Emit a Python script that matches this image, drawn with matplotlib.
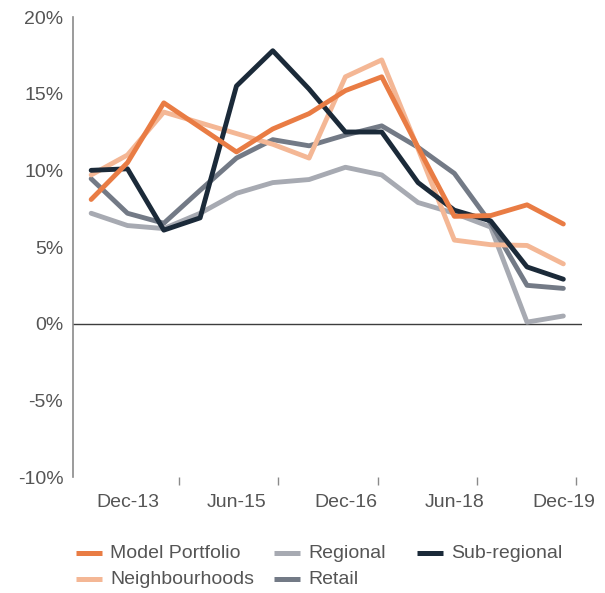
import matplotlib
matplotlib.use("Agg")
import matplotlib.pyplot as plt
from matplotlib.lines import Line2D
from matplotlib.ticker import FixedLocator, FuncFormatter

plt.rcParams['font.family'] = ['Liberation Sans', 'DejaVu Sans']

# ---- data ----
periods = ['Jun-13', 'Dec-13', 'Jun-14', 'Dec-14', 'Jun-15', 'Dec-15', 'Jun-16',
           'Dec-16', 'Jun-17', 'Dec-17', 'Jun-18', 'Dec-18', 'Jun-19', 'Dec-19']
model_portfolio = [8.1, 10.5, 14.4, 12.8, 11.2, 12.7, 13.7, 15.2, 16.1, 11.5, 7.0, 7.05, 7.75, 6.5]
neighbourhoods = [9.7, 11.0, 13.8, 13.1, 12.4, 11.7, 10.8, 16.1, 17.2, 11.4, 5.45, 5.15, 5.1, 3.9]
regional = [7.2, 6.4, 6.2, 7.2, 8.5, 9.2, 9.4, 10.2, 9.7, 7.9, 7.2, 6.3, 0.1, 0.5]
sub_regional = [10.0, 10.1, 6.1, 6.9, 15.5, 17.8, 15.3, 12.5, 12.5, 9.2, 7.4, 6.7, 3.7, 2.9]
retail = [9.45, 7.2, 6.55, 8.7, 10.8, 12.0, 11.6, 12.3, 12.9, 11.5, 9.8, 6.55, 2.5, 2.3]
labelled_periods = ['Dec-13', 'Jun-15', 'Dec-16', 'Jun-18', 'Dec-19']
y_ticks = [-10, -5, 0, 5, 10, 15, 20]

series = [
    ('Model Portfolio', model_portfolio, '#E97C44', 6),
    ('Regional', regional, '#A7AAB2', 2),
    ('Sub-regional', sub_regional, '#1B2A39', 5),
    ('Neighbourhoods', neighbourhoods, '#F4B795', 4),
    ('Retail', retail, '#737A86', 3),
]

W, H = 605, 593
fig = plt.figure(figsize=(W / 100, H / 100), dpi=100)
ax = fig.add_axes([73 / W, (H - 477) / H, (581.5 - 73) / W, (477 - 17) / H])

x = list(range(len(periods)))
for name, vals, color, z in series:
    ax.plot(x, vals, color=color, lw=3.5, zorder=z,
            solid_capstyle='round', solid_joinstyle='round')

ax.set_xlim(-0.5, len(periods) - 0.5)
ax.set_ylim(-10, 20)

ax.axhline(0, color='#3d3d3d', lw=1.0, zorder=1)

for s in ['top', 'right', 'bottom']:
    ax.spines[s].set_visible(False)
ax.spines['left'].set_color('#8a8a8a')
ax.spines['left'].set_linewidth(1.2)

text_color = '#555555'
ax.yaxis.set_major_locator(FixedLocator(y_ticks))
ax.yaxis.set_major_formatter(FuncFormatter(lambda v, p: f'{int(v)}%'))
ax.tick_params(axis='y', length=0, pad=7, labelsize=14, labelcolor=text_color)

label_pos = [periods.index(p) for p in labelled_periods]
ax.set_xticks(label_pos)
ax.set_xticklabels(labelled_periods)
ax.tick_params(axis='x', which='major', length=0, pad=12.5, labelsize=14, labelcolor=text_color)
minor_pos = [2.42 + 2.735 * k for k in range(5)]
ax.xaxis.set_minor_locator(FixedLocator(minor_pos))
ax.tick_params(axis='x', which='minor', length=5.5, width=1.0, color='#8a8a8a',
               direction='out', pad=0)

# legend (manual layout)
col_x = [76, 274, 417]
row_y = [553, 579]
layout = {'Model Portfolio': (0, 0), 'Regional': (1, 0), 'Sub-regional': (2, 0),
          'Neighbourhoods': (0, 1), 'Retail': (1, 1)}
for name, vals, color, z in series:
    c, r = layout[name]
    x0 = col_x[c]
    y0 = H - row_y[r]
    fig.add_artist(Line2D([x0 / W, (x0 + 26) / W], [y0 / H, y0 / H],
                          color=color, lw=3.6, solid_capstyle='butt'))
    fig.text((x0 + 34) / W, y0 / H, name, fontsize=14, color=text_color,
             va='center', ha='left')

fig.savefig('out.png', dpi=100)
